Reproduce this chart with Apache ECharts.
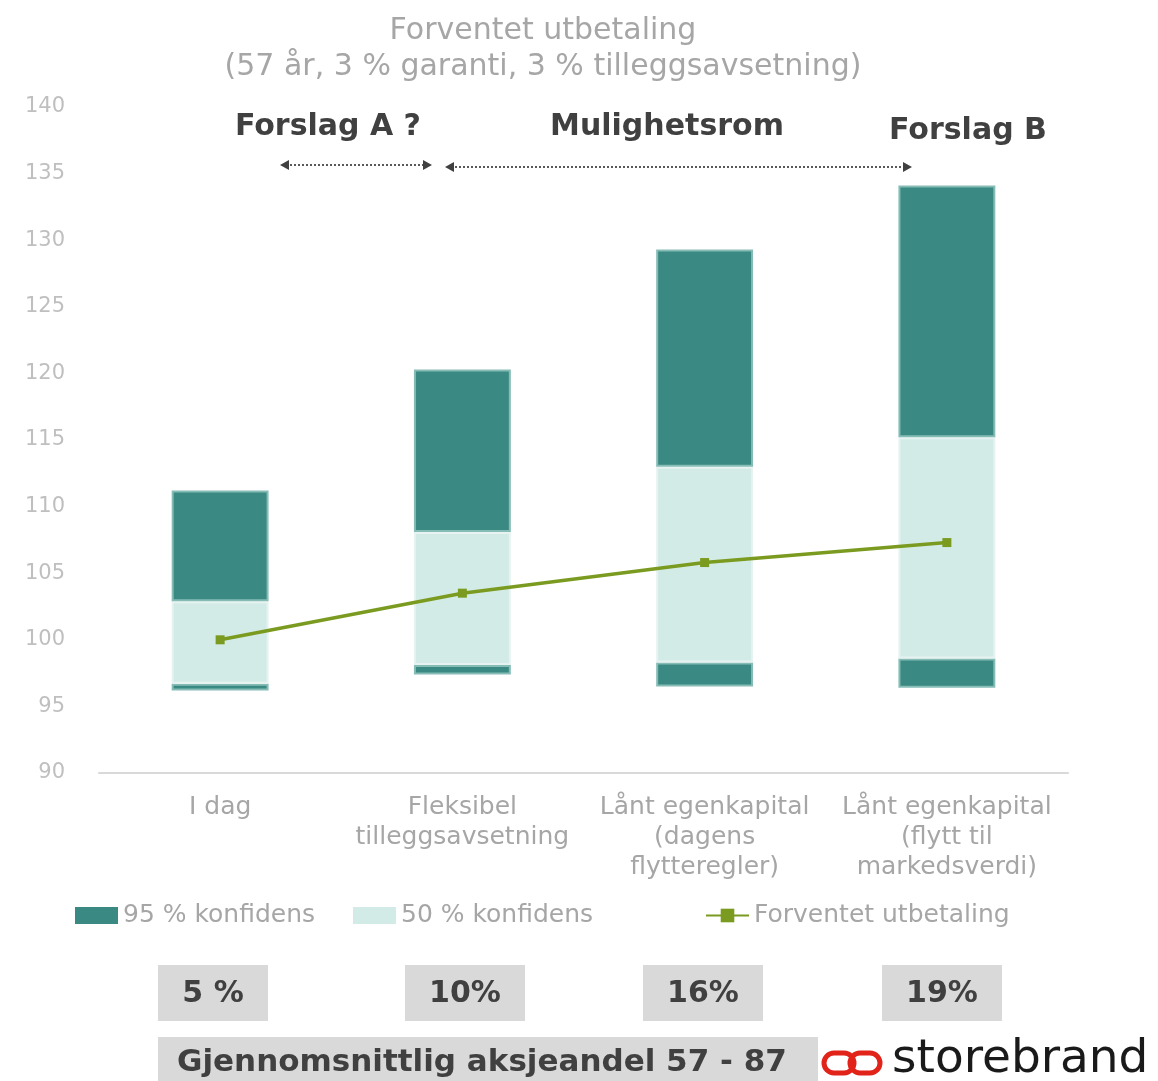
<!DOCTYPE html>
<html><head><meta charset="utf-8">
<script src="https://cdn.jsdelivr.net/npm/echarts@6/dist/echarts.min.js"></script>
<style>html,body{margin:0;padding:0;background:#fff}#c{width:1158px;height:1081px}</style>
</head><body><div id="c"></div>
<script>
const categories = ['I dag', 'Fleksibel\ntilleggsavsetning', 'Lånt egenkapital\n(dagens\nflytteregler)', 'Lånt egenkapital\n(flytt til\nmarkedsverdi)'];
const low95 = [96.2, 97.4, 96.5, 96.4];
const low50 = [96.7, 98.1, 98.3, 98.6];
const high50 = [102.9, 108.1, 113.0, 115.2];
const high95 = [111.2, 120.3, 129.3, 134.1];
const expected = [100.0, 103.5, 105.8, 107.3];
const equityShare = ['5 %', '10%', '16%', '19%'];
const equityLabel = 'Gjennomsnittlig aksjeandel 57 - 87';
const yMin = 90, yMax = 140, yInterval = 5;

const FONT = 'DejaVu Sans';
const DARK = '#3a8a83', LIGHT = '#d2ebe7', LINE = '#7b9b20';

const seg1 = low50.map((v, i) => +(v - low95[i]).toFixed(2));
const seg2 = high50.map((v, i) => +(v - low50[i]).toFixed(2));
const seg3 = high95.map((v, i) => +(v - high50[i]).toFixed(2));

const barCommon = { type: 'bar', stack: 'ci', barWidth: '40%', emphasis: { disabled: true } };

const chart = echarts.init(document.getElementById('c'));

const graphics = [];
function arrow(x1, x2, y) {
  graphics.push({ type: 'line', shape: { x1: x1 + 6, y1: y, x2: x2 - 6, y2: y }, style: { stroke: '#595959', lineWidth: 2, lineDash: [2, 2] } });
  graphics.push({ type: 'polygon', shape: { points: [[x1, y], [x1 + 9, y - 5], [x1 + 9, y + 5]] }, style: { fill: '#404040' } });
  graphics.push({ type: 'polygon', shape: { points: [[x2, y], [x2 - 9, y - 5], [x2 - 9, y + 5]] }, style: { fill: '#404040' } });
}
arrow(280, 432, 165);
arrow(445, 912, 167);
const annot = [['Forslag A ?', 328, 127], ['Mulighetsrom', 667, 127], ['Forslag B', 968, 131]];
annot.forEach(a => graphics.push({ type: 'text', x: a[1], y: a[2], style: { text: a[0], font: 'bold 30px "' + FONT + '"', fill: '#404040', textAlign: 'center', textVerticalAlign: 'middle' } }));

const boxX = [158, 405, 643, 882], boxW = [110, 120, 120, 120];
equityShare.forEach((t, i) => {
  graphics.push({ type: 'rect', shape: { x: boxX[i], y: 965, width: boxW[i], height: 56 }, style: { fill: '#d9d9d9' } });
  graphics.push({ type: 'text', x: boxX[i] + boxW[i] / 2, y: 994, style: { text: t, font: 'bold 30px "' + FONT + '"', fill: '#404040', textAlign: 'center', textVerticalAlign: 'middle' } });
});
graphics.push({ type: 'rect', shape: { x: 158, y: 1037, width: 660, height: 50 }, style: { fill: '#d9d9d9' } });
graphics.push({ type: 'text', x: 177, y: 1063, style: { text: equityLabel, font: 'bold 31px "' + FONT + '"', fill: '#404040', textAlign: 'left', textVerticalAlign: 'middle' } });
graphics.push({ type: 'rect', shape: { x: 824, y: 1053, width: 30, height: 20, r: 10 }, style: { fill: 'none', stroke: '#e2231a', lineWidth: 5 } });
graphics.push({ type: 'rect', shape: { x: 850, y: 1053, width: 30, height: 20, r: 10 }, style: { fill: 'none', stroke: '#e2231a', lineWidth: 5 } });
graphics.push({ type: 'text', x: 892, y: 1060, style: { text: 'storebrand', font: '47px "' + FONT + '"', fill: '#1a1a1a', textAlign: 'left', textVerticalAlign: 'middle' } });

const legendText = { fontFamily: FONT, fontSize: 25, color: '#a6a6a6' };
const legendBase = { top: 903, padding: 0, itemWidth: 43, itemHeight: 17, textStyle: legendText };

chart.setOption({
  animation: false,
  title: {
    text: 'Forventet utbetaling\n(57 år, 3 % garanti, 3 % tilleggsavsetning)',
    left: 538, top: 8, textAlign: 'center',
    textStyle: { fontFamily: FONT, fontSize: 30, fontWeight: 'normal', color: '#a6a6a6', lineHeight: 36 }
  },
  grid: { left: 99, right: 90, top: 107, bottom: 308 },
  legend: [
    Object.assign({}, legendBase, { data: [{ name: '95 % konfidens', icon: 'rect' }], left: 75, itemStyle: { borderWidth: 0 } }),
    Object.assign({}, legendBase, { data: [{ name: '50 % konfidens', icon: 'rect' }], left: 353, itemStyle: { borderWidth: 0 } }),
    Object.assign({}, legendBase, { data: ['Forventet utbetaling'], left: 705 })
  ],
  xAxis: {
    type: 'category', data: categories,
    axisLine: { lineStyle: { color: '#d9d9d9', width: 2 } },
    axisTick: { show: false },
    axisLabel: { interval: 0, margin: 19, fontFamily: FONT, fontSize: 25, lineHeight: 30, color: '#a6a6a6' }
  },
  yAxis: {
    type: 'value', min: yMin, max: yMax, interval: yInterval,
    axisLine: { show: false }, axisTick: { show: false }, splitLine: { show: false },
    axisLabel: { margin: 34, fontFamily: FONT, fontSize: 21, color: '#bfbfbf' }
  },
  series: [
    Object.assign({}, barCommon, { name: 'base', data: low95, itemStyle: { color: 'transparent' }, silent: true }),
    Object.assign({}, barCommon, { name: '95 % konfidens', data: seg1, itemStyle: { color: DARK, borderColor: '#86bcb6', borderWidth: 2 } }),
    Object.assign({}, barCommon, { name: '50 % konfidens', data: seg2, itemStyle: { color: LIGHT, borderColor: '#e6f3f1', borderWidth: 2 } }),
    Object.assign({}, barCommon, { name: '95 % konfidens', data: seg3, itemStyle: { color: DARK, borderColor: '#86bcb6', borderWidth: 2 } }),
    { type: 'line', name: 'Forventet utbetaling', data: expected, symbol: 'rect', symbolSize: 9, lineStyle: { color: LINE, width: 3.5 }, itemStyle: { color: LINE }, z: 5 }
  ],
  graphic: graphics
});
</script></body></html>
